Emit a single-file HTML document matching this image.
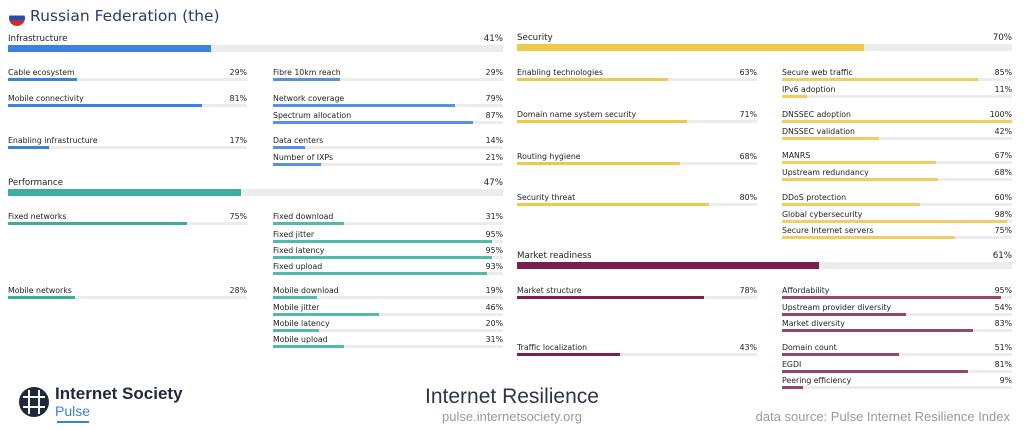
<!DOCTYPE html>
<html><head><meta charset="utf-8"><style>
body{margin:0;width:1024px;height:430px;background:#fff;position:relative;overflow:hidden;font-family:"DejaVu Sans","Liberation Sans",sans-serif;color:#222}
.t{position:absolute;font-size:7.8px;line-height:10px;white-space:nowrap}
.h{font-size:8.7px}
.b{position:absolute;background:#ececec}
.b i{position:absolute;left:0;top:0;bottom:0;display:block}
</style></head><body>
<div style="position:absolute;left:9px;top:10px;width:16px;height:16px;border-radius:50%;overflow:hidden;background:linear-gradient(#fff 0 33%,#2a4bb0 33% 66%,#d52b1e 66%)"></div>
<div class="t" style="left:30px;top:6px;font-size:15.5px;line-height:20px;color:#283a7a">Russian Federation (the)</div>
<div id="c"></div>
<svg style="position:absolute;left:18px;top:386px" width="32" height="32" viewBox="0 0 32 32"><circle cx="16" cy="16" r="15" fill="#1e2a3a"/><path d="M5 11h22M5 21h22M11 4v24M21 4v24" stroke="#fff" stroke-width="2"/></svg>
<div class="t" style="left:55px;top:384px;font-size:17px;line-height:20px;font-family:'Liberation Sans',sans-serif;font-weight:bold;color:#1e2a3a">Internet Society</div>
<div class="t" style="left:55px;top:402px;font-size:14px;line-height:18px;font-family:'Liberation Sans',sans-serif;color:#3b82e0">Pulse</div>
<div style="position:absolute;left:57px;top:421px;width:32px;height:2px;background:#3b82e0"></div>
<div class="t" style="left:0;width:1024px;text-align:center;top:384px;font-size:21px;line-height:26px;font-family:'Liberation Sans',sans-serif;color:#2a3550;font-weight:300">Internet Resilience</div>
<div class="t" style="left:0;width:1024px;text-align:center;top:409px;font-size:13px;line-height:16px;font-family:'Liberation Sans',sans-serif;color:#999">pulse.internetsociety.org</div>
<div class="t" style="right:14px;top:409px;font-size:13px;line-height:16px;font-family:'Liberation Sans',sans-serif;color:#999">data source: Pulse Internet Resilience Index</div>
<script>
var c=document.getElementById('c'),h='';
function it(x,w,y,l,p,col,head,op){
 h+='<div class="t'+(head?' h':'')+'" style="left:'+x+'px;top:'+(y-4)+'px">'+l+'</div>';
 h+='<div class="t'+(head?' h':'')+'" style="left:'+x+'px;width:'+w+'px;text-align:right;top:'+(y-4)+'px">'+p+'%</div>';
 var bh=head?7:3,bt=head?y+7:y+6;
 h+='<div class="b" style="left:'+x+'px;width:'+w+'px;top:'+bt+'px;height:'+bh+'px"><i style="width:'+p+'%;background:'+col+';opacity:'+(op||1)+'"></i></div>';
}
var B='#3b82e0',T='#3aaf9f',Y='#f0c94a',M='#7a1f50';
it(8,495,38,'Infrastructure',41,B,1);
it(8,239,72,'Cable ecosystem',29,B);it(273,230,72,'Fibre 10km reach',29,B,0,.85);
it(8,239,98,'Mobile connectivity',81,B);it(273,230,98,'Network coverage',79,B,0,.85);it(273,230,115,'Spectrum allocation',87,B,0,.85);
it(8,239,140,'Enabling infrastructure',17,B);it(273,230,140,'Data centers',14,B,0,.85);it(273,230,157,'Number of IXPs',21,B,0,.85);
it(8,495,182,'Performance',47,T,1);
it(8,239,216,'Fixed networks',75,T);it(273,230,216,'Fixed download',31,T,0,.85);it(273,230,234,'Fixed jitter',95,T,0,.85);it(273,230,250,'Fixed latency',95,T,0,.85);it(273,230,266,'Fixed upload',93,T,0,.85);
it(8,239,290,'Mobile networks',28,T);it(273,230,290,'Mobile download',19,T,0,.85);it(273,230,307,'Mobile jitter',46,T,0,.85);it(273,230,323,'Mobile latency',20,T,0,.85);it(273,230,339,'Mobile upload',31,T,0,.85);
it(517,495,37,'Security',70,Y,1);
it(517,240,72,'Enabling technologies',63,Y);it(782,230,72,'Secure web traffic',85,Y,0,.85);it(782,230,89,'IPv6 adoption',11,Y,0,.85);
it(517,240,114,'Domain name system security',71,Y);it(782,230,114,'DNSSEC adoption',100,Y,0,.85);it(782,230,131,'DNSSEC validation',42,Y,0,.85);
it(517,240,156,'Routing hygiene',68,Y);it(782,230,155,'MANRS',67,Y,0,.85);it(782,230,172,'Upstream redundancy',68,Y,0,.85);
it(517,240,197,'Security threat',80,Y);it(782,230,197,'DDoS protection',60,Y,0,.85);it(782,230,214,'Global cybersecurity',98,Y,0,.85);it(782,230,230,'Secure Internet servers',75,Y,0,.85);
it(517,495,255,'Market readiness',61,M,1);
it(517,240,290,'Market structure',78,M);it(782,230,290,'Affordability',95,M,0,.8);it(782,230,307,'Upstream provider diversity',54,M,0,.8);it(782,230,323,'Market diversity',83,M,0,.8);
it(517,240,347,'Traffic localization',43,M);it(782,230,347,'Domain count',51,M,0,.8);it(782,230,364,'EGDI',81,M,0,.8);it(782,230,380,'Peering efficiency',9,M,0,.8);
c.innerHTML=h;
</script>
</body></html>
